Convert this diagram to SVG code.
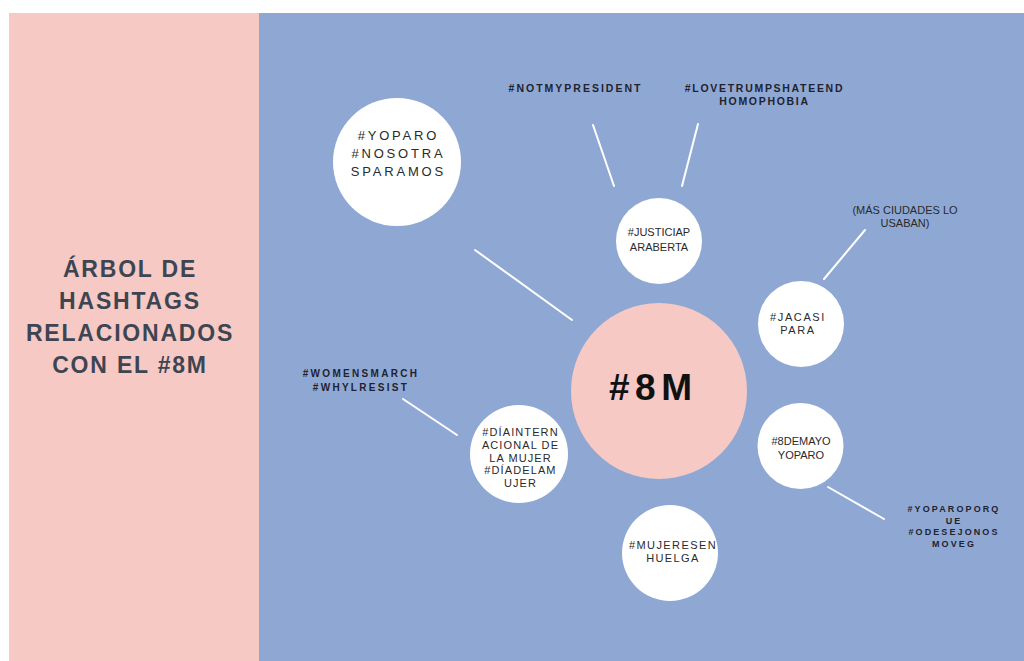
<svg xmlns="http://www.w3.org/2000/svg" width="1024" height="661" viewBox="0 0 1024 661">
<style>
.title{font-family:"Liberation Sans",Arial,sans-serif;font-weight:bold;font-size:23px;letter-spacing:1.8px;fill:#3e4552;text-anchor:middle}
.bub{fill:#ffffff}
.lbl{font-family:"Liberation Sans",Arial,sans-serif;font-weight:bold;fill:#1f2330;text-anchor:middle}
.ct{font-family:"Liberation Sans",Arial,sans-serif;fill:#2a2a2a;text-anchor:middle}
.conn line{stroke:#ffffff;stroke-width:2;stroke-linecap:round}
</style>
<rect x="0" y="0" width="1024" height="661" fill="#ffffff"/>
<rect x="9" y="13" width="250" height="648" fill="#f6c9c4"/>
<rect x="259" y="13" width="765" height="648" fill="#8fa8d3"/>
<g id="title">
<text class="title" x="130" y="277">ÁRBOL DE</text>
<text class="title" x="130" y="309">HASHTAGS</text>
<text class="title" x="130" y="341">RELACIONADOS</text>
<text class="title" x="130" y="373">CON EL #8M</text>
</g>
<g class="conn" id="connectors">
<line x1="475" y1="250" x2="572" y2="320"/>
<line x1="593" y1="125" x2="614" y2="186"/>
<line x1="698" y1="124" x2="682" y2="186"/>
<line x1="824" y1="279" x2="865" y2="230"/>
<line x1="828" y1="487" x2="884" y2="519"/>
<line x1="403" y1="399" x2="457" y2="435"/>
</g>
<g id="center">
<circle cx="659" cy="391" r="88" fill="#f6c9c4"/>
<text x="609" y="400" font-family="Liberation Sans,Arial,sans-serif" font-weight="bold" font-size="37" letter-spacing="5.5" fill="#111111">#8M</text>
</g>
<g id="yoparo">
<circle class="bub" cx="397" cy="162" r="64"/>
<text class="ct" font-size="13" letter-spacing="2.8" x="398.4" y="140">#YOPARO</text>
<text class="ct" font-size="13" letter-spacing="2.8" x="398.4" y="158">#NOSOTRA</text>
<text class="ct" font-size="13" letter-spacing="2.8" x="398.4" y="176">SPARAMOS</text>
</g>
<g id="justicia">
<circle class="bub" cx="659" cy="241" r="43"/>
<text class="ct" font-size="11" x="659" y="236">#JUSTICIAP</text>
<text class="ct" font-size="11" x="659" y="251">ARABERTA</text>
</g>
<g id="jacasi">
<circle class="bub" cx="801" cy="324" r="43"/>
<text class="ct" font-size="11" letter-spacing="1.6" x="798" y="321">#JACASI</text>
<text class="ct" font-size="11" letter-spacing="1.6" x="798" y="334">PARA</text>
</g>
<g id="demayo">
<circle class="bub" cx="800.5" cy="446" r="43"/>
<text class="ct" font-size="11" x="801" y="445">#8DEMAYO</text>
<text class="ct" font-size="11" x="801" y="459">YOPARO</text>
</g>
<g id="diainternacional">
<circle class="bub" cx="519" cy="454" r="49"/>
<text class="ct" font-size="11" letter-spacing="1.1" x="520.5" y="436">#DÍAINTERN</text>
<text class="ct" font-size="11" letter-spacing="1.1" x="520.5" y="449">ACIONAL DE</text>
<text class="ct" font-size="11" letter-spacing="1.1" x="520.5" y="461.5">LA MUJER</text>
<text class="ct" font-size="11" letter-spacing="1.1" x="520.5" y="474">#DÍADELAM</text>
<text class="ct" font-size="11" letter-spacing="1.1" x="520.5" y="486.5">UJER</text>
</g>
<g id="mujeres">
<circle class="bub" cx="670" cy="553" r="48"/>
<text class="ct" font-size="11" letter-spacing="1.4" x="673" y="549">#MUJERESEN</text>
<text class="ct" font-size="11" letter-spacing="1.4" x="673" y="562">HUELGA</text>
</g>
<g id="notmypresident">
<text class="lbl" font-size="10.5" letter-spacing="2" x="575.5" y="92">#NOTMYPRESIDENT</text>
</g>
<g id="lovetrumps">
<text class="lbl" font-size="10.5" letter-spacing="1.7" x="764.5" y="92">#LOVETRUMPSHATEEND</text>
<text class="lbl" font-size="10.5" letter-spacing="1.7" x="764.5" y="105">HOMOPHOBIA</text>
</g>
<g id="masciudades">
<text class="ct" font-size="11" fill="#1f2330" x="905" y="214">(MÁS CIUDADES LO</text>
<text class="ct" font-size="11" fill="#1f2330" x="905" y="227">USABAN)</text>
</g>
<g id="womensmarch">
<text class="lbl" font-size="10" letter-spacing="2.3" x="361" y="377">#WOMENSMARCH</text>
<text class="lbl" font-size="10" letter-spacing="2.3" x="361" y="391">#WHYLRESIST</text>
</g>
<g id="yoparoporque">
<text class="lbl" font-size="9" letter-spacing="2.1" x="954" y="512">#YOPAROPORQ</text>
<text class="lbl" font-size="9" letter-spacing="2.1" x="954" y="523.5">UE</text>
<text class="lbl" font-size="9" letter-spacing="2.1" x="954" y="535">#ODESEJONOS</text>
<text class="lbl" font-size="9" letter-spacing="2.1" x="954" y="547">MOVEG</text>
</g>
</svg>
